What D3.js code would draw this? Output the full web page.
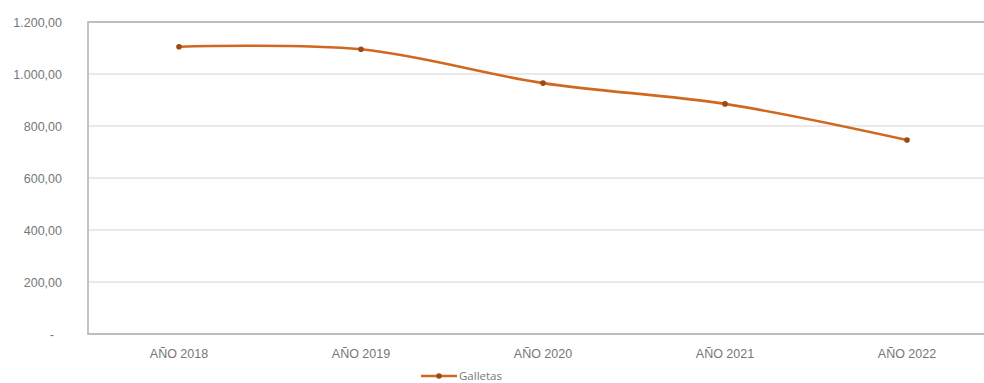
<!DOCTYPE html>
<html><head><meta charset="utf-8">
<script src="https://cdn.jsdelivr.net/npm/d3@7"></script>
<style>
html,body{margin:0;padding:0;background:#fff;overflow:hidden;}
svg{display:block;font-family:"Open Sans","Liberation Sans",sans-serif;}
</style></head>
<body><svg id="c" width="984" height="383"></svg>
<script>
const categories = ["AÑO 2018","AÑO 2019","AÑO 2020","AÑO 2021","AÑO 2022"];
const galletas = [1105, 1095, 965, 885, 746];
const yTicks = [0, 200, 400, 600, 800, 1000, 1200];
const seriesName = "Galletas";

const svg = d3.select("#c");
const m = {left:88, top:22, right:998, bottom:334};
const x = d3.scaleBand().domain(categories).range([m.left, m.right]);
const y = d3.scaleLinear().domain([0,1200]).range([m.bottom, m.top]);
const loc = d3.formatLocale({decimal:",", thousands:".", grouping:[3], currency:["",""]});
const fmt = loc.format(",.2f");
const color = "#d0691f";
const txt = "#777777";
const fs = "12.5px";

// gridlines
svg.append("g").selectAll("line").data(yTicks.filter(d=>d>0 && d<1200)).join("line")
  .attr("x1", m.left).attr("x2", m.right)
  .attr("y1", d=>y(d)).attr("y2", d=>y(d))
  .attr("stroke","#e3e3e3").attr("stroke-width",1.5);

// plot border (top, left, bottom)
svg.append("path")
  .attr("d", `M${m.right},${m.top}H${m.left}V${m.bottom}H${m.right}`)
  .attr("fill","none").attr("stroke","#bdbdbd").attr("stroke-width",1.8);

// y axis
const ya = svg.append("g").attr("transform",`translate(${m.left-26},0)`)
  .call(d3.axisLeft(y).tickValues(yTicks).tickSize(0).tickPadding(0)
    .tickFormat(d => d===0 ? "-" : fmt(d)));
ya.select(".domain").remove();
ya.selectAll("text").attr("fill",txt).style("font-size",fs);
ya.selectAll(".tick").filter(d=>d===0).select("text").attr("dx",-8);

// x axis
const xa = svg.append("g").attr("transform",`translate(0,${m.bottom})`)
  .call(d3.axisBottom(x).tickSize(0).tickPadding(15));
xa.select(".domain").remove();
xa.selectAll("text").attr("fill",txt).style("font-size",fs);

// line
const line = d3.line().x((d,i)=>x(categories[i])+x.bandwidth()/2).y(d=>y(d))
  .curve(d3.curveCatmullRom.alpha(0));
svg.append("path").datum(galletas).attr("d", line)
  .attr("fill","none").attr("stroke",color).attr("stroke-width",2.6)
  .attr("stroke-linecap","round");
svg.append("g").selectAll("circle").data(galletas).join("circle")
  .attr("cx",(d,i)=>x(categories[i])+x.bandwidth()/2).attr("cy",d=>y(d))
  .attr("r",2.8).attr("fill","#9c4a14");

// legend
const lg = svg.append("g");
lg.append("line").attr("x1",421).attr("x2",457).attr("y1",376).attr("y2",376)
  .attr("stroke",color).attr("stroke-width",2.6);
lg.append("circle").attr("cx",439).attr("cy",376).attr("r",2.8).attr("fill","#9c4a14");
lg.append("text").attr("x",459).attr("y",376).attr("dy","0.35em").text(seriesName)
  .attr("fill",txt).style("font-size","11.5px");
</script></body></html>
